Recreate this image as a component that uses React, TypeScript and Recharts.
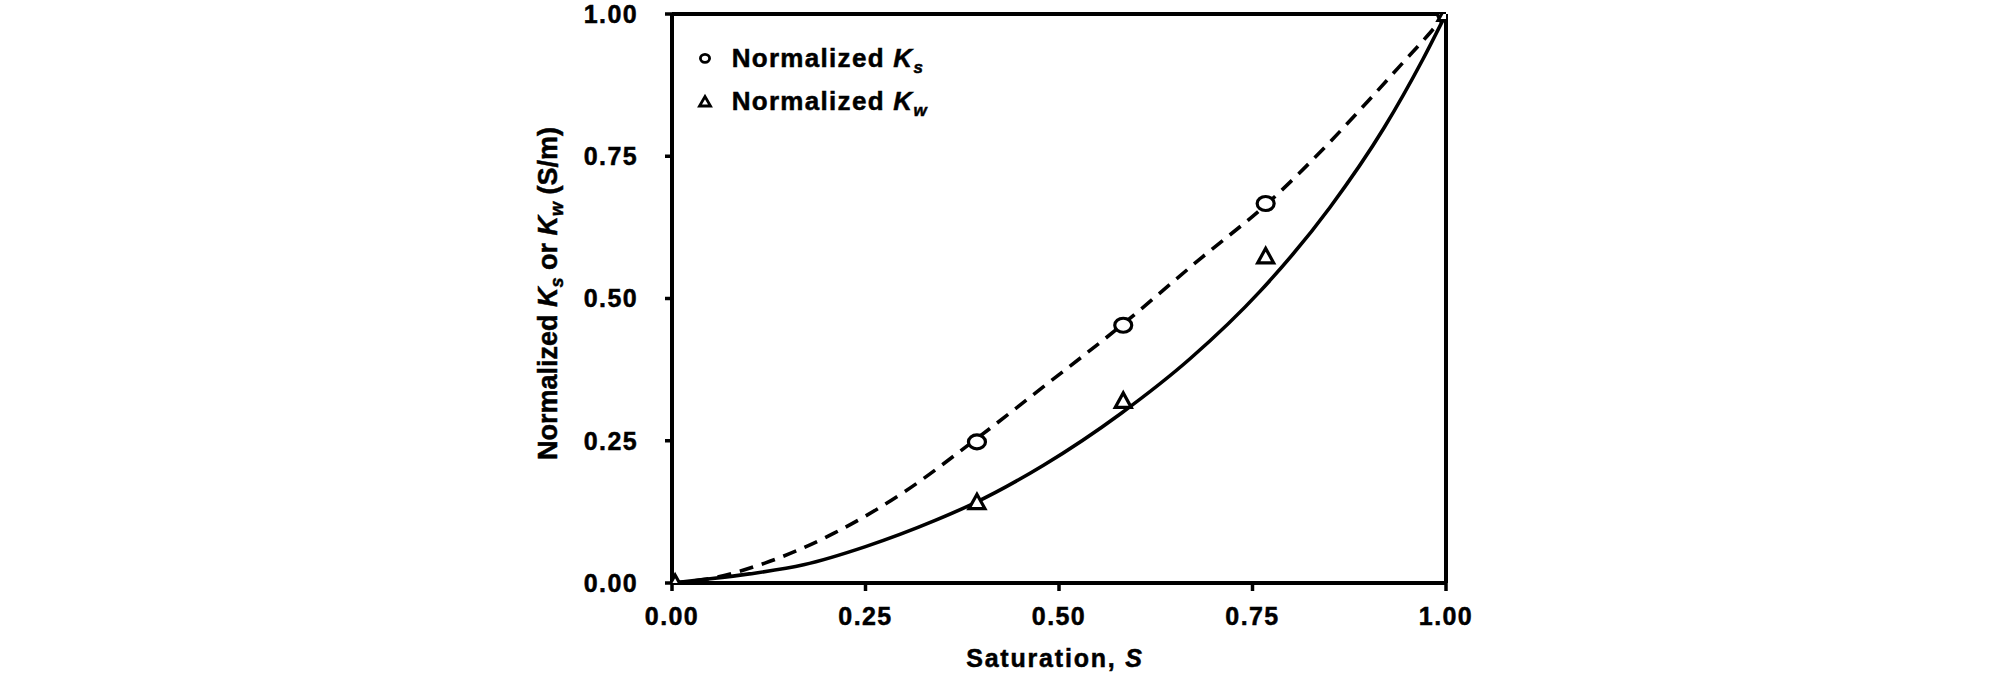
import React from 'react'
import {
  ComposedChart, Line, Scatter, XAxis, YAxis, ReferenceLine, Legend, Label,
} from 'recharts'

const FONT = '"Liberation Sans", Arial, Helvetica, sans-serif'

// fitted curves
const ksFitS = [0, 0.05, 0.12, 0.21, 0.3, 0.39, 0.48, 0.58, 0.68, 0.77, 0.85, 0.9, 0.94, 0.98, 1.0]
const ksFitVal = [0, 0.008, 0.035, 0.088, 0.16, 0.25, 0.345, 0.452, 0.567, 0.668, 0.775, 0.848, 0.908, 0.968, 1.0]

const kwFitS = [0, 0.04, 0.1, 0.17, 0.25, 0.34, 0.39, 0.48, 0.58, 0.67, 0.76, 0.85, 0.92, 0.97, 1.0]
const kwFitVal = [0, 0.006, 0.016, 0.032, 0.064, 0.11, 0.14, 0.207, 0.298, 0.395, 0.513, 0.66, 0.8, 0.92, 1.0]

// measured points
const ksPtS = [0.394, 0.583, 0.767, 1.0]
const ksPtVal = [0.248, 0.453, 0.667, 1.0]
const kwPtS = [0.004, 0.394, 0.583, 0.767, 1.0]
const kwPtVal = [0, 0.142, 0.32, 0.574, 1.0]

const ticks = [0, 0.25, 0.5, 0.75, 1]

const zip = (xs: number[], ys: number[]) => xs.map((x, i) => ({ x, y: ys[i] }))
const ksFit = zip(ksFitS, ksFitVal)
const kwFit = zip(kwFitS, kwFitVal)
const ksPts = zip(ksPtS, ksPtVal)
const kwPts = zip(kwPtS, kwPtVal)

const tickStyle = {
  fill: '#000', fontSize: 25, fontWeight: 700, fontFamily: FONT, letterSpacing: 1.4,
  stroke: '#000', strokeWidth: 0.5,
}

function CircleMark(props: any) {
  const { cx, cy } = props
  return <ellipse cx={cx} cy={cy} rx={8.5} ry={7} fill="#fff" stroke="#000" strokeWidth={3.2} />
}

function TriangleMark(props: any) {
  const { cx, cy } = props
  const pts = `${cx - 8},${cy + 6.5} ${cx + 8},${cy + 6.5} ${cx},${cy - 8}`
  return <polygon points={pts} fill="#fff" stroke="#000" strokeWidth={3.2} strokeLinejoin="miter" />
}

function LegendBox() {
  const txt = {
    fontSize: 26, fontWeight: 700, fontFamily: FONT, letterSpacing: 1.3, fill: '#000',
    stroke: '#000', strokeWidth: 0.5,
  }
  return (
    <svg width={280} height={95} style={{ overflow: 'visible' }}>
      <ellipse cx={15} cy={23.3} rx={4.6} ry={4} fill="#fff" stroke="#000" strokeWidth={2.8} />
      <text x={41.7} y={31.7} {...txt}>
        Normalized <tspan fontStyle="italic">K</tspan>
        <tspan fontStyle="italic" fontSize={17} dy={6}>s</tspan>
      </text>
      <polygon points="9.5,71 20.5,71 15,61.5" fill="#fff" stroke="#000" strokeWidth={2.8} />
      <text x={41.7} y={75} {...txt}>
        Normalized <tspan fontStyle="italic">K</tspan>
        <tspan fontStyle="italic" fontSize={17} dy={6}>w</tspan>
      </text>
    </svg>
  )
}

function YTitle(props: any) {
  const { viewBox } = props
  const x = viewBox.x + 5
  const y = viewBox.y + viewBox.height / 2 - 5
  return (
    <text x={x} y={y} transform={`rotate(-90 ${x} ${y})`} textAnchor="middle"
      fontSize={27} fontWeight={700} fontFamily={FONT} fill="#000" stroke="#000" strokeWidth={0.5}>
      Normalized <tspan fontStyle="italic">K</tspan>
      <tspan fontStyle="italic" fontSize={18} dy={6}>s</tspan>
      <tspan dy={-6}> or </tspan>
      <tspan fontStyle="italic">K</tspan>
      <tspan fontStyle="italic" fontSize={18} dy={6}>w</tspan>
      <tspan dy={-6}> (S/m)</tspan>
    </text>
  )
}

function XTitle(props: any) {
  const { viewBox } = props
  const x = viewBox.x + viewBox.width / 2 - 4
  const y = viewBox.y + 84
  return (
    <text x={x} y={y} textAnchor="middle" fontSize={25} fontWeight={700}
      fontFamily={FONT} fill="#000" stroke="#000" strokeWidth={0.5} letterSpacing={1.8}>
      Saturation, <tspan fontStyle="italic">S</tspan>
    </text>
  )
}

export default function App() {
  return (
    <div style={{ position: 'absolute', left: 0, top: 0, width: 2008, height: 675, background: '#fff' }}>
      <ComposedChart width={2008} height={675} margin={{ top: 14, right: 562, bottom: 0, left: 552 }}>
        <XAxis
          type="number" dataKey="x" domain={[0, 1]} ticks={ticks} interval={0}
          tickFormatter={(v: number) => v.toFixed(2)}
          axisLine={{ stroke: '#000', strokeWidth: 4 }}
          tickLine={{ stroke: '#000', strokeWidth: 3.5 }}
          tickSize={8} tickMargin={16} height={92} tick={tickStyle}
          allowDataOverflow
        >
          <Label content={<XTitle />} position="insideBottom" />
        </XAxis>
        <YAxis
          type="number" dataKey="y" domain={[0, 1]} ticks={ticks} interval={0}
          tickFormatter={(v: number) => v.toFixed(2)}
          axisLine={{ stroke: '#000', strokeWidth: 4 }}
          tickLine={{ stroke: '#000', strokeWidth: 3.5 }}
          tickSize={7} tickMargin={27} width={120} tick={tickStyle}
          allowDataOverflow
        >
          <Label content={<YTitle />} position="insideLeft" />
        </YAxis>
        <ReferenceLine y={1} stroke="#000" strokeWidth={4} />
        <ReferenceLine x={1} stroke="#000" strokeWidth={4} />
        <Line data={ksFit} dataKey="y" type="monotone" stroke="#000" strokeWidth={3.6}
          strokeDasharray="14 9" dot={false} activeDot={false} isAnimationActive={false} />
        <Line data={kwFit} dataKey="y" type="monotone" stroke="#000" strokeWidth={3.6}
          dot={false} activeDot={false} isAnimationActive={false} />
        <Scatter data={ksPts} dataKey="y" shape={<CircleMark />} isAnimationActive={false} />
        <Scatter data={kwPts} dataKey="y" shape={<TriangleMark />} isAnimationActive={false} />
        <Legend
          layout="horizontal" verticalAlign="middle" align="center"
          content={() => <LegendBox />}
          wrapperStyle={{ position: 'absolute', left: 690, top: 35, width: 280, height: 95 }}
        />
      </ComposedChart>
    </div>
  )
}
